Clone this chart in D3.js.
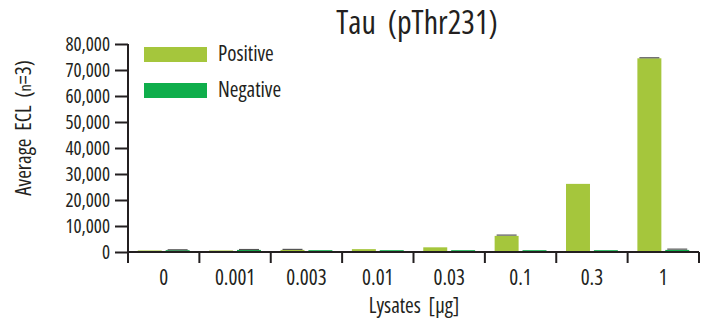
<!DOCTYPE html>
<html><head><meta charset="utf-8">
<script src="https://cdn.jsdelivr.net/npm/d3@7"></script>
<style>body{margin:0;background:#fff}text{font-family:"Open Sans",sans-serif;font-stretch:condensed;font-weight:500;fill:#231f20;white-space:pre}</style>
</head><body><svg id="c" width="704" height="323"></svg>
<script>
const categories = ["0","0.001","0.003","0.01","0.03","0.1","0.3","1"];
const positive = [600, 600, 800, 1100, 1800, 6200, 26200, 74500];
const positiveErr = [0, 0, 200, 0, 0, 300, 0, 200];
const negative = [700, 800, 700, 700, 700, 700, 700, 800];
const negativeErr = [150, 150, 0, 0, 0, 0, 0, 300];
const yTicks = [0,10000,20000,30000,40000,50000,60000,70000,80000];
const seriesNames = ["Positive","Negative"];
const colors = ["#a5c63c","#0fae4b"];

const svg = d3.select("#c");
const x0 = 128, x1 = 699, yb = 252, yt = 44;
const x = d3.scaleBand().domain(categories).range([x0,x1]);
const xs = d3.scaleBand().domain(seriesNames).range([0,x.bandwidth()]).paddingInner(0.14).paddingOuter(0.35);
const y = d3.scaleLinear().domain([0,80000]).range([yb,yt]);
const fmt = d3.format(",");

// bars
const data = [positive, negative];
const errs = [positiveErr, negativeErr];
seriesNames.forEach((s,i)=>{
  svg.append("g").selectAll("rect").data(categories).join("rect")
    .attr("x", c=>x(c)+xs(s)).attr("width", xs.bandwidth())
    .attr("y", (c,j)=>y(data[i][j])).attr("height",(c,j)=>yb-y(data[i][j]))
    .attr("fill", colors[i]);
  const withErr = categories.map((c,j)=>({c,j})).filter(d=>errs[i][d.j]>0);
  svg.append("g").selectAll("line").data(withErr).join("line")
    .attr("x1", d=>x(d.c)+xs(s)+2).attr("x2", d=>x(d.c)+xs(s)+xs.bandwidth()-2)
    .attr("y1",d=>y(data[i][d.j]+errs[i][d.j])).attr("y2",d=>y(data[i][d.j]+errs[i][d.j]))
    .attr("stroke","#555").attr("stroke-width",1.2);
});

// y axis
const ya = svg.append("g").attr("transform",`translate(${x0},0)`)
  .call(d3.axisLeft(y).tickValues(yTicks).tickFormat(fmt).tickSize(13).tickPadding(5));
ya.select(".domain").remove();
ya.selectAll("line").attr("stroke","#231f20").attr("stroke-width",2);
ya.selectAll("text").style("font-size","19px").attr("fill","#231f20").attr("dy","0.34em");
svg.append("line").attr("x1",x0).attr("x2",x0).attr("y1",yt).attr("y2",yb+11).attr("stroke","#231f20").attr("stroke-width",2);

// x axis
svg.append("line").attr("x1",x0).attr("x2",x1).attr("y1",yb).attr("y2",yb).attr("stroke","#231f20").attr("stroke-width",2);
const bounds = categories.map(c=>x(c)).concat([x1]);
svg.append("g").selectAll("line").data(bounds).join("line")
  .attr("x1",d=>d).attr("x2",d=>d).attr("y1",yb).attr("y2",yb+11)
  .attr("stroke","#231f20").attr("stroke-width",2);
svg.append("g").selectAll("text").data(categories).join("text")
  .attr("x",c=>x(c)+x.bandwidth()/2).attr("y",285).attr("text-anchor","middle")
  .style("font-size","21px").text(c=>c);

// titles
svg.append("text").attr("x",417).attr("y",34).attr("text-anchor","middle").style("font-size","32px").text("Tau  (pThr231)");
svg.append("text").attr("x",414).attr("y",313).attr("text-anchor","middle").style("font-size","21px").text("Lysates  [µg]");
svg.append("text").attr("transform","translate(31,128) rotate(-90)").attr("text-anchor","middle").style("font-size","21px")
  .html('Average  ECL  (<tspan style="font-size:16px">n</tspan>=3)');

// legend
seriesNames.forEach((s,i)=>{
  svg.append("rect").attr("x",144).attr("y",47+i*36).attr("width",63).attr("height",15).attr("fill",colors[i]);
  svg.append("text").attr("x",218).attr("y",61+i*36).style("font-size","21px").text(s);
});
</script></body></html>
